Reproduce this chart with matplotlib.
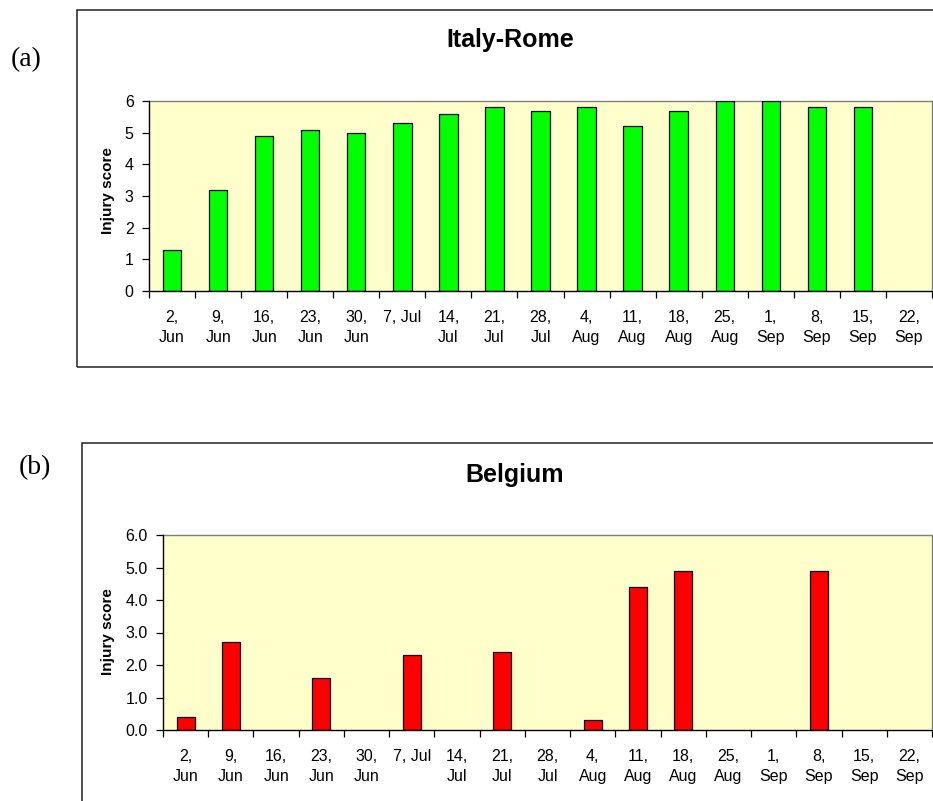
import numpy as np
import matplotlib
matplotlib.use("Agg")
import matplotlib.pyplot as plt
from matplotlib.patches import Rectangle
from matplotlib.ticker import FixedLocator, FormatStrFormatter

plt.rcParams['font.family'] = ['Liberation Sans', 'DejaVu Sans']

# Sampling dates (weekly) and injury scores per site
dates = ['2,\nJun', '9,\nJun', '16,\nJun', '23,\nJun', '30,\nJun', '7, Jul',
         '14,\nJul', '21,\nJul', '28,\nJul', '4,\nAug', '11,\nAug', '18,\nAug',
         '25,\nAug', '1,\nSep', '8,\nSep', '15,\nSep', '22,\nSep']
rome_scores = [1.3, 3.2, 4.9, 5.1, 5.0, 5.3, 5.6, 5.8, 5.7, 5.8, 5.2, 5.7,
               6.0, 6.0, 5.8, 5.8, np.nan]
belgium_scores = [0.4, 2.7, np.nan, 1.6, np.nan, 2.3, np.nan, 2.4, np.nan,
                  0.3, 4.4, 4.9, np.nan, np.nan, 4.9, np.nan, np.nan]
y_ticks = [0, 1, 2, 3, 4, 5, 6]

W, H = 933, 801
fig = plt.figure(figsize=(W / 100, H / 100), dpi=100)


def px_box(left, top, right, bottom):
    """Pixel box -> figure fraction [x0, y0, w, h]."""
    return [left / W, 1 - bottom / H, (right - left) / W, (bottom - top) / H]


def draw_panel(rect, values, color, title, title_xy, ylabel_xy, tag, tag_xy,
               frame, yfmt):
    # outer chart frame
    fx0, fy0, fw, fh = px_box(*frame)
    fig.patches.append(Rectangle((fx0, fy0), fw, fh, transform=fig.transFigure,
                                 fill=False, edgecolor='#222222', lw=1.1,
                                 zorder=0))

    ax = fig.add_axes(px_box(*rect))
    ax.set_facecolor('#FFFFCC')
    x = np.arange(len(dates))
    ax.bar(x, values, width=0.4, color=color, edgecolor='black', lw=0.9,
           zorder=3)

    ax.set_xlim(-0.5, len(dates) - 0.5)
    ax.set_ylim(0, 6)

    # boundary ticks between categories, labels at category centres
    ax.xaxis.set_major_locator(FixedLocator(np.arange(len(dates) + 1) - 0.5))
    ax.xaxis.set_major_formatter(plt.NullFormatter())
    ax.xaxis.set_minor_locator(FixedLocator(x))
    ax.set_xticklabels(dates, minor=True, fontsize=11.5, linespacing=1.4)
    ax.tick_params(axis='x', which='major', direction='out', length=5,
                   width=0.9, color='black')
    ax.tick_params(axis='x', which='minor', length=0, pad=14)

    ax.set_yticks(y_ticks)
    ax.yaxis.set_major_formatter(FormatStrFormatter(yfmt))
    ax.tick_params(axis='y', direction='out', length=5, width=0.9, pad=6,
                   labelsize=11.5)

    for side in ('top', 'right'):
        ax.spines[side].set_color('#808080')
        ax.spines[side].set_linewidth(1.0)
    for side in ('left', 'bottom'):
        ax.spines[side].set_color('black')
        ax.spines[side].set_linewidth(1.0)
    ax.spines['left'].set_zorder(4)
    ax.spines['bottom'].set_zorder(4)

    fig.text(title_xy[0] / W, 1 - title_xy[1] / H, title, fontsize=18,
             fontweight='bold', ha='center', va='center')
    fig.text(ylabel_xy[0] / W, 1 - ylabel_xy[1] / H, 'Injury score',
             fontsize=11, fontweight='bold', rotation=90,
             ha='center', va='center')
    fig.text(tag_xy[0] / W, 1 - tag_xy[1] / H, tag, fontsize=20,
             family='Liberation Serif', ha='center', va='center')
    return ax


draw_panel((149, 101, 932, 291), rome_scores, '#00FF00', 'Italy-Rome',
           (510, 40), (108, 191), '(a)', (26, 60),
           (77, 10, 960, 367), '%d')
draw_panel((163, 535, 932, 730), belgium_scores, '#FF0000', 'Belgium',
           (515, 475), (108, 632), '(b)', (35, 468),
           (82, 443, 960, 860), '%.1f')

plt.savefig('out.png', dpi=100)
